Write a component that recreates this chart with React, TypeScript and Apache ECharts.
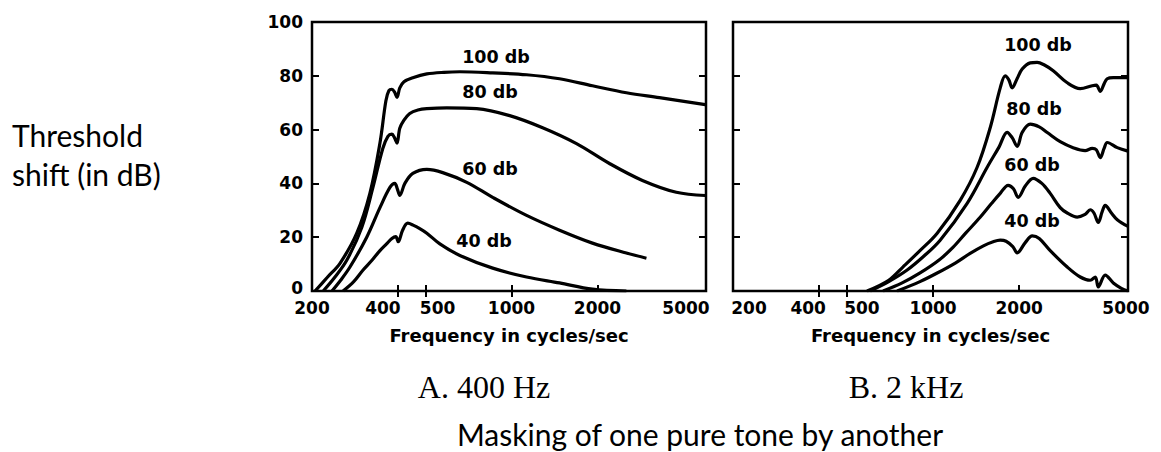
import React, { useEffect, useRef } from "react";
import * as echarts from "echarts";

// ---- data (frequency in Hz, threshold shift in dB) ----
const X_MIN = 200;
const X_MAX = 4800;
const X_LABEL_VALUES = [200, 400, 500, 1000, 2000, 4800];
const X_LABELS = ["200", "400", "500", "1000", "2000", "5000"];
const X_BOTTOM_TICKS = [400, 500, 1000, 2000];
const X_TOP_TICKS = [400, 500, 1000];
const CURVE_LABELS = ["100 db", "80 db", "60 db", "40 db"];

// Panel A: 400 Hz masker
const A100_F = [205, 226, 251, 287, 319, 346, 363, 372, 381, 389, 397, 406, 420, 451, 505, 580, 659, 859, 1129, 1473, 1921, 2526, 3296, 4772];
const A100_V = [0, 5, 10.4, 21.5, 36.3, 55, 70.7, 74.5, 75, 74, 72, 75.5, 77.8, 79.3, 80.7, 81.3, 81.5, 81.1, 80.4, 78.9, 76.3, 73.7, 71.9, 69.3];
const A80_F = [219, 240, 265, 299, 327, 354, 369, 381, 389, 397, 406, 420, 440, 470, 505, 593, 755, 985, 1285, 1689, 2203, 2874, 3778, 4772];
const A80_V = [0, 5, 11.5, 23.7, 38.5, 53, 57.5, 58.3, 57, 55, 60.5, 63.5, 66, 67.3, 67.8, 68.1, 67.8, 65.2, 60.7, 54.8, 47.4, 41.1, 36.7, 35.5];
const A60_F = [235, 252, 272, 311, 346, 375, 390, 398, 406, 423, 451, 505, 574, 697, 859, 1129, 1473, 1921, 2526, 2969];
const A60_V = [0, 4, 9, 20, 31, 38.5, 40, 38, 35.5, 40, 43.7, 45.2, 44, 40.4, 34.8, 28.1, 22.6, 17.8, 14.1, 12.2];
const A40_F = [257, 280, 302, 325, 346, 365, 381, 393, 401, 415, 433, 452, 477, 505, 561, 659, 859, 1129, 1473, 1921, 2526];
const A40_V = [0, 3.5, 7.8, 11.5, 15, 17.5, 19.5, 20.2, 18.3, 22.5, 25.2, 24.5, 23.2, 21.5, 17.5, 13.2, 8.5, 5.2, 3, 0.7, 0];

// Panel B: 2 kHz masker
const B100_F = [588, 700, 786, 900, 1034, 1244, 1426, 1584, 1717, 1787, 1840, 1890, 1968, 2049, 2186, 2311, 2450, 2630, 2944, 3268, 3600, 3720, 3841, 3960, 4061, 4265, 4800];
const B100_V = [0, 4, 9, 15, 21.5, 33.7, 46, 60.7, 75.5, 80, 78.5, 75.5, 79, 82.5, 84.8, 85, 84, 81.9, 77.4, 75.2, 76.3, 76.5, 74.2, 77, 78.9, 79.3, 79.3];
const B80_F = [603, 700, 812, 930, 1059, 1316, 1546, 1700, 1816, 1890, 1968, 2050, 2186, 2350, 2506, 2782, 3100, 3400, 3600, 3720, 3841, 3960, 4061, 4403, 4800];
const B80_V = [0, 3.5, 7.8, 13, 18.9, 32.6, 46, 53.5, 59, 57, 53.8, 59, 62, 61, 58.9, 55.5, 53.2, 52.2, 53, 52.5, 49.6, 53, 55.2, 53.3, 52];
const B60_F = [669, 780, 901, 1050, 1176, 1300, 1461, 1600, 1717, 1830, 1910, 1984, 2100, 2239, 2400, 2567, 2782, 2944, 3190, 3400, 3542, 3650, 3779, 3900, 3996, 4200, 4403, 4800];
const B60_V = [0, 3, 6.7, 11.5, 16.3, 21.5, 27.4, 32.5, 36.3, 39.3, 38, 34.8, 39, 41.9, 40, 36.3, 31, 29, 27.5, 28.5, 30.2, 29, 25.5, 29.5, 31.8, 29, 26.5, 24];
const B40_F = [749, 900, 1034, 1200, 1348, 1500, 1622, 1717, 1800, 1900, 1968, 2100, 2222, 2350, 2567, 2944, 3268, 3542, 3690, 3779, 3996, 4265, 4550, 4800];
const B40_V = [0, 3.5, 6.7, 10.5, 14, 16.8, 18.3, 18.9, 18.5, 16.5, 14.2, 18, 20.5, 19.5, 15, 8.9, 5.2, 4, 5.2, 1.5, 5.9, 3, 1, 0];

const lg = Math.log10;
const pairs = (f: number[], v: number[]) => f.map((x, i) => [lg(x), v[i]]);

const AX_FONT = "DejaVu Sans";
const BLACK = "#000";

// Panel geometry (pixels)
const GRID_A = { left: 312, top: 22, width: 394, height: 269 };
const GRID_B = { left: 733, top: 22, width: 395, height: 269 };

// label nudges (pixels) so tick labels sit like in the printed figure
const SHIFT_A = [0, -15, 12, 0, 0, -20];
const SHIFT_B = [16, -11, 15, 0, 0, -2];

function bottomAxis(gridIndex: number, shifts: number[], widthPx: number) {
  const pxPerUnit = widthPx / (lg(X_MAX) - lg(X_MIN));
  const labelPos = X_LABEL_VALUES.map((p, i) => lg(p) + shifts[i] / pxPerUnit);
  return {
    type: "value",
    gridIndex,
    position: "bottom",
    min: lg(X_MIN),
    max: lg(X_MAX),
    name: "Frequency in cycles/sec",
    nameLocation: "middle",
    nameGap: 35,
    nameTextStyle: { fontFamily: AX_FONT, fontWeight: "bold", fontSize: 18, lineHeight: 18, color: BLACK },
    axisLine: { show: false },
    splitLine: { show: false },
    axisTick: {
      show: true,
      inside: true,
      length: 6,
      customValues: X_BOTTOM_TICKS.map(lg),
      lineStyle: { color: BLACK, width: 2 },
    },
    axisLabel: {
      show: true,
      margin: 10,
      lineHeight: 14,
      fontFamily: AX_FONT,
      fontWeight: "bold",
      fontSize: 17,
      color: BLACK,
      customValues: labelPos,
      formatter: (val: number) => {
        const i = labelPos.findIndex((p) => Math.abs(p - val) < 1e-6);
        return i < 0 ? "" : X_LABELS[i];
      },
    },
  };
}

function topAxis(gridIndex: number) {
  return {
    type: "value",
    gridIndex,
    position: "top",
    min: lg(X_MIN),
    max: lg(X_MAX),
    axisLine: { show: false },
    splitLine: { show: false },
    axisLabel: { show: false },
    axisTick: {
      show: true,
      inside: true,
      length: 6,
      customValues: X_TOP_TICKS.map(lg),
      lineStyle: { color: BLACK, width: 2 },
    },
  };
}

function yAxis(gridIndex: number, position: string, labels: boolean) {
  const base = { fontFamily: AX_FONT, fontWeight: "bold", fontSize: 17, lineHeight: 13, color: BLACK };
  return {
    type: "value",
    gridIndex,
    position,
    min: 0,
    max: 100,
    interval: 20,
    axisLine: { show: false },
    splitLine: { show: false },
    axisTick: { show: true, inside: true, length: 7, lineStyle: { color: BLACK, width: 2 } },
    axisLabel: {
      show: labels,
      margin: 9,
      ...base,
      formatter: (v: number) => (v === 0 ? "{z|0}" : `{n|${v}}`),
      rich: {
        n: { ...base },
        z: { ...base, padding: [0, 0, 6, 0] },
      },
    },
  };
}

function line(f: number[], v: number[], xi: number, yi: number) {
  return {
    type: "line",
    xAxisIndex: xi,
    yAxisIndex: yi,
    data: pairs(f, v),
    symbol: "none",
    smooth: 0.35,
    lineStyle: { color: BLACK, width: 3.2 },
    z: 3,
  };
}

function text(t: string, x: number, y: number, font: string, align = "center") {
  return {
    type: "text",
    x,
    y,
    style: {
      text: t,
      font,
      fill: BLACK,
      textAlign: align,
      textVerticalAlign: "middle",
      align,
      verticalAlign: "middle",
    },
  };
}

const LABEL_FONT = "bold 17.5px 'DejaVu Sans'";

const option = {
  animation: false,
  backgroundColor: "#fff",
  grid: [
    { ...GRID_A, show: true, borderColor: BLACK, borderWidth: 2.5, backgroundColor: "transparent" },
    { ...GRID_B, show: true, borderColor: BLACK, borderWidth: 2.5, backgroundColor: "transparent" },
  ],
  xAxis: [
    bottomAxis(0, SHIFT_A, GRID_A.width),
    topAxis(0),
    bottomAxis(1, SHIFT_B, GRID_B.width),
    topAxis(1),
  ],
  yAxis: [yAxis(0, "left", true), yAxis(0, "right", false), yAxis(1, "left", false), yAxis(1, "right", false)],
  series: [
    line(A100_F, A100_V, 0, 0),
    line(A80_F, A80_V, 0, 0),
    line(A60_F, A60_V, 0, 0),
    line(A40_F, A40_V, 0, 0),
    line(B100_F, B100_V, 2, 2),
    line(B80_F, B80_V, 2, 2),
    line(B60_F, B60_V, 2, 2),
    line(B40_F, B40_V, 2, 2),
  ],
  graphic: [
    text(CURVE_LABELS[0], 496, 57, LABEL_FONT),
    text(CURVE_LABELS[1], 490, 92, LABEL_FONT),
    text(CURVE_LABELS[2], 490, 169, LABEL_FONT),
    text(CURVE_LABELS[3], 484, 241, LABEL_FONT),
    text(CURVE_LABELS[0], 1038, 45, LABEL_FONT),
    text(CURVE_LABELS[1], 1034, 109, LABEL_FONT),
    text(CURVE_LABELS[2], 1032, 165, LABEL_FONT),
    text(CURVE_LABELS[3], 1032, 221, LABEL_FONT),
    text("Threshold", 12, 135, "30px Lato", "left"),
    text("shift (in dB)", 12, 174, "30px Lato", "left"),
    text("A. 400 Hz", 484, 387, "32px 'Liberation Serif'"),
    text("B. 2 kHz", 906, 387, "32px 'Liberation Serif'"),
    text("Masking of one pure tone by another", 700, 434, "30px Lato"),
  ],
};

export default function App() {
  const ref = useRef<HTMLDivElement>(null);
  useEffect(() => {
    document.body.style.margin = "0";
    const chart = echarts.init(ref.current as HTMLDivElement, null, { renderer: "svg" });
    chart.setOption(option as any);
    return () => chart.dispose();
  }, []);
  return <div ref={ref} style={{ width: 1161, height: 452 }} />;
}
